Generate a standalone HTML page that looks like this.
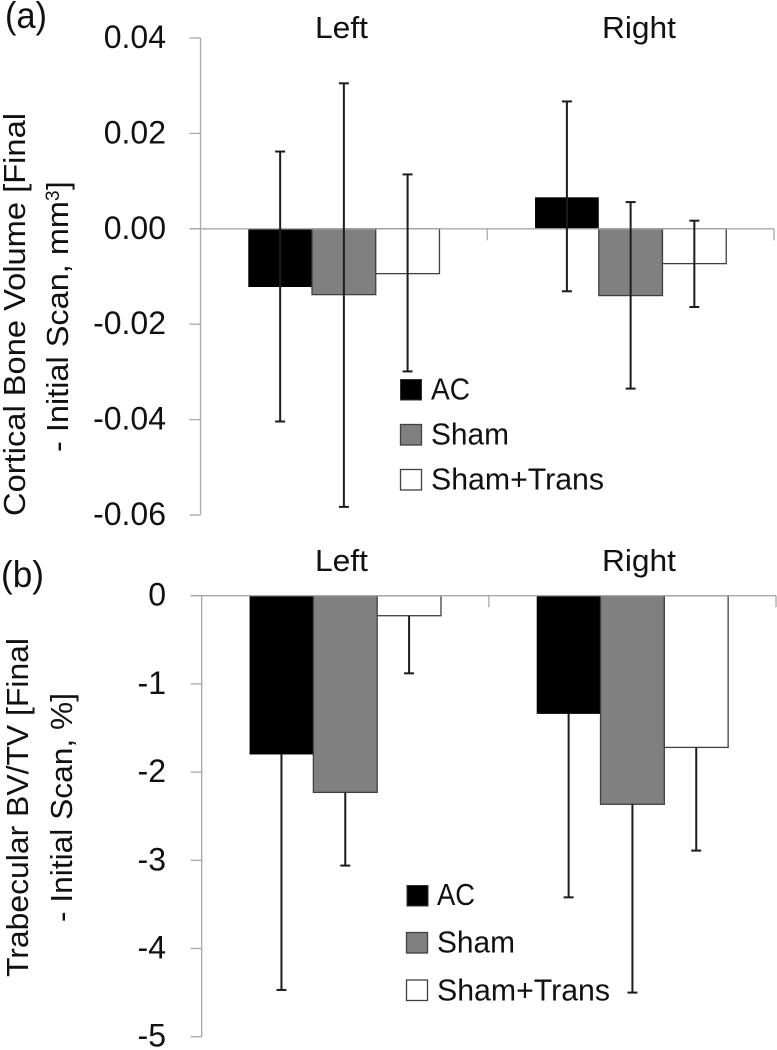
<!DOCTYPE html>
<html lang="en">
<head>
<meta charset="utf-8">
<title>Cortical bone volume and trabecular BV/TV change</title>
<style>
html,body{margin:0;padding:0;background:#fff;}
svg{display:block;filter:blur(0.35px);}
text{font-family:"Liberation Sans",sans-serif;fill:#111;}
</style>
</head>
<body>
<svg id="figure" xmlns="http://www.w3.org/2000/svg" width="777" height="1050" viewBox="0 0 777 1050">
  <g id="panel-a">
    <text x="5" y="28" font-size="37" textLength="42" lengthAdjust="spacingAndGlyphs">(a)</text>
    <text x="315" y="38" font-size="31" textLength="53" lengthAdjust="spacingAndGlyphs">Left</text>
    <text x="602" y="38" font-size="31" textLength="74" lengthAdjust="spacingAndGlyphs">Right</text>
    <g>
      <text transform="translate(25 516) rotate(-90)" font-size="31" textLength="403" lengthAdjust="spacingAndGlyphs">Cortical Bone Volume [Final</text>
      <text transform="translate(68 452) rotate(-90)" font-size="31" textLength="251" lengthAdjust="spacingAndGlyphs">- Initial Scan, mm</text>
      <text transform="translate(59 201) rotate(-90)" font-size="19">3</text>
      <text transform="translate(68 190) rotate(-90)" font-size="31">]</text>
    </g>
    <g>
      <rect x="400.5" y="379.5" width="21" height="20.5" fill="#000" stroke="#333" stroke-width="1"/>
      <text x="431" y="399.5" font-size="31" textLength="39" lengthAdjust="spacingAndGlyphs">AC</text>
      <rect x="400.5" y="424.5" width="21" height="20.5" fill="#808080" stroke="#404040" stroke-width="1.3"/>
      <text x="431" y="444.5" font-size="31" textLength="78" lengthAdjust="spacingAndGlyphs">Sham</text>
      <rect x="400.5" y="469.5" width="21" height="20.5" fill="#fff" stroke="#404040" stroke-width="1.3"/>
      <text x="431" y="489.5" font-size="31" textLength="173" lengthAdjust="spacingAndGlyphs">Sham+Trans</text>
    </g>
  </g>
  <g id="panel-b">
    <text x="1" y="587" font-size="37" textLength="43" lengthAdjust="spacingAndGlyphs">(b)</text>
    <text x="315" y="571" font-size="31" textLength="53" lengthAdjust="spacingAndGlyphs">Left</text>
    <text x="602" y="571" font-size="31" textLength="74" lengthAdjust="spacingAndGlyphs">Right</text>
    <g>
      <text transform="translate(28 977) rotate(-90)" font-size="31" textLength="339" lengthAdjust="spacingAndGlyphs">Trabecular BV/TV [Final</text>
      <text transform="translate(72 922) rotate(-90)" font-size="31" textLength="229" lengthAdjust="spacingAndGlyphs">- Initial Scan, %]</text>
    </g>
    <g>
      <rect x="407" y="885.5" width="21" height="20.5" fill="#000" stroke="#333" stroke-width="1"/>
      <text x="437" y="905" font-size="31" textLength="38" lengthAdjust="spacingAndGlyphs">AC</text>
      <rect x="406.5" y="932.5" width="21" height="20.5" fill="#808080" stroke="#404040" stroke-width="1.3"/>
      <text x="437" y="952.5" font-size="31" textLength="78" lengthAdjust="spacingAndGlyphs">Sham</text>
      <rect x="406.5" y="980" width="21" height="20.5" fill="#fff" stroke="#404040" stroke-width="1.3"/>
      <text x="437" y="1000.5" font-size="31" textLength="173" lengthAdjust="spacingAndGlyphs">Sham+Trans</text>
    </g>
  </g>
</svg>
<script>
// Shared categories and series
const categories = ['left', 'right'];
const seriesNames = ['ac', 'sham', 'sham-trans'];

// Panel (a): cortical bone volume change, mm3 — rows are series, columns are categories
const corticalMeans = [[-0.0122, 0.0066], [-0.0138, -0.0140], [-0.0094, -0.0073]];
const corticalUpper = [[0.0162, 0.0267], [0.0305, 0.0056], [0.0114, 0.0017]];
const corticalLower = [[-0.0404, -0.0131], [-0.0583, -0.0335], [-0.0299, -0.0164]];
const corticalTicks = [0.04, 0.02, 0, -0.02, -0.04, -0.06];
const corticalTickLabels = ['0.04', '0.02', '0.00', '-0.02', '-0.04', '-0.06'];

// Panel (b): trabecular BV/TV change, %
const trabecularMeans = [[-1.80, -1.34], [-2.23, -2.365], [-0.227, -1.72]];
const trabecularUpper = [[null, null], [null, null], [null, null]];
const trabecularLower = [[-4.47, -3.42], [-3.06, -4.50], [-0.88, -2.89]];
const trabecularTicks = [0, -1, -2, -3, -4, -5];
const trabecularTickLabels = ['0', '-1', '-2', '-3', '-4', '-5'];

const NS = 'http://www.w3.org/2000/svg';
const AXIS_COLOR = '#a8a8a8';
const ERR_COLOR = '#1c1c1c';
const fills = ['#000000', '#808080', '#ffffff'];
const strokes = ['none', '#404040', '#404040'];

function make(tag, attrs, parent) {
  const el = document.createElementNS(NS, tag);
  for (const k in attrs) el.setAttribute(k, attrs[k]);
  parent.appendChild(el);
  return el;
}

function drawPanel(o) {
  const root = document.getElementById(o.id);
  const yMax = o.ticks[0];
  const yMin = o.ticks[o.ticks.length - 1];
  const y = v => o.top + (yMax - v) / (yMax - yMin) * (o.bottom - o.top);
  const catW = (o.right - o.left) / categories.length;
  const barW = catW / 4.5;
  const barX = (c, s) => o.left + c * catW + barW * 0.75 + s * barW;
  const y0 = y(0);

  const barsGroup = make('g', {}, root);
  
  
  seriesNames.forEach((name, s) => {
    categories.forEach((cat, c) => {
      const v = o.means[s][c];
      const bar = make('rect', {
        x: barX(c, s), y: Math.min(y(v), y0),
        width: barW, height: Math.abs(y(v) - y0),
        fill: fills[s], stroke: strokes[s], 'stroke-width': 1.3
      }, barsGroup);
      
      
    });
  });

  const axes = make('g', {}, root);
  
  
  const line = (x1, y1, x2, y2, color, w, parent) =>
    make('line', { x1: x1, y1: y1, x2: x2, y2: y2, stroke: color, 'stroke-width': w }, parent);

  const yAxis = line(o.left, o.top, o.left, o.bottom, AXIS_COLOR, 1.3, axes);
  
  
  const xAxis = line(o.left - 11, y0, o.right, y0, AXIS_COLOR, 1.3, axes);
  
  

  o.ticks.forEach((t, i) => {
    const tick = line(o.left - 11, y(t), o.left, y(t), AXIS_COLOR, 1.3, axes);
    
    
    const label = make('text', {
      x: 166, y: y(t) + o.labelShift, 'font-size': 32, 'text-anchor': 'end'
    }, axes);
    label.textContent = o.tickLabels[i];
    
    
  });
  categories.forEach((cat, c) => {
    const x = o.left + (c + 1) * catW;
    const tick = line(x, y0, x, y0 + 11.5, AXIS_COLOR, 1.3, axes);
    
    
  });

  const errs = make('g', {}, root);
  
  
  seriesNames.forEach((name, s) => {
    categories.forEach((cat, c) => {
      const x = barX(c, s) + barW / 2;
      const hi = o.upper[s][c];
      const lo = o.lower[s][c];
      const yHi = hi === null ? y(o.means[s][c]) : y(hi);
      const yLo = y(lo);
      const stem = line(x, yHi, x, yLo, ERR_COLOR, 2, errs);
      
      
      if (hi !== null) {
        const capTop = line(x - 5, yHi, x + 5, yHi, ERR_COLOR, 2, errs);
        
        
      }
      const capBottom = line(x - 5, yLo, x + 5, yLo, ERR_COLOR, 2, errs);
      
      
    });
  });
}

drawPanel({
  id: 'panel-a', prefix: 'panel-a',
  left: 200.5, right: 774, top: 38, bottom: 515, labelShift: 10,
  ticks: corticalTicks, tickLabels: corticalTickLabels,
  means: corticalMeans, upper: corticalUpper, lower: corticalLower
});
drawPanel({
  id: 'panel-b', prefix: 'panel-b',
  left: 201.7, right: 776, top: 595.7, bottom: 1036.7, labelShift: 10,
  ticks: trabecularTicks, tickLabels: trabecularTickLabels,
  means: trabecularMeans, upper: trabecularUpper, lower: trabecularLower
});
</script>
</body>
</html>
